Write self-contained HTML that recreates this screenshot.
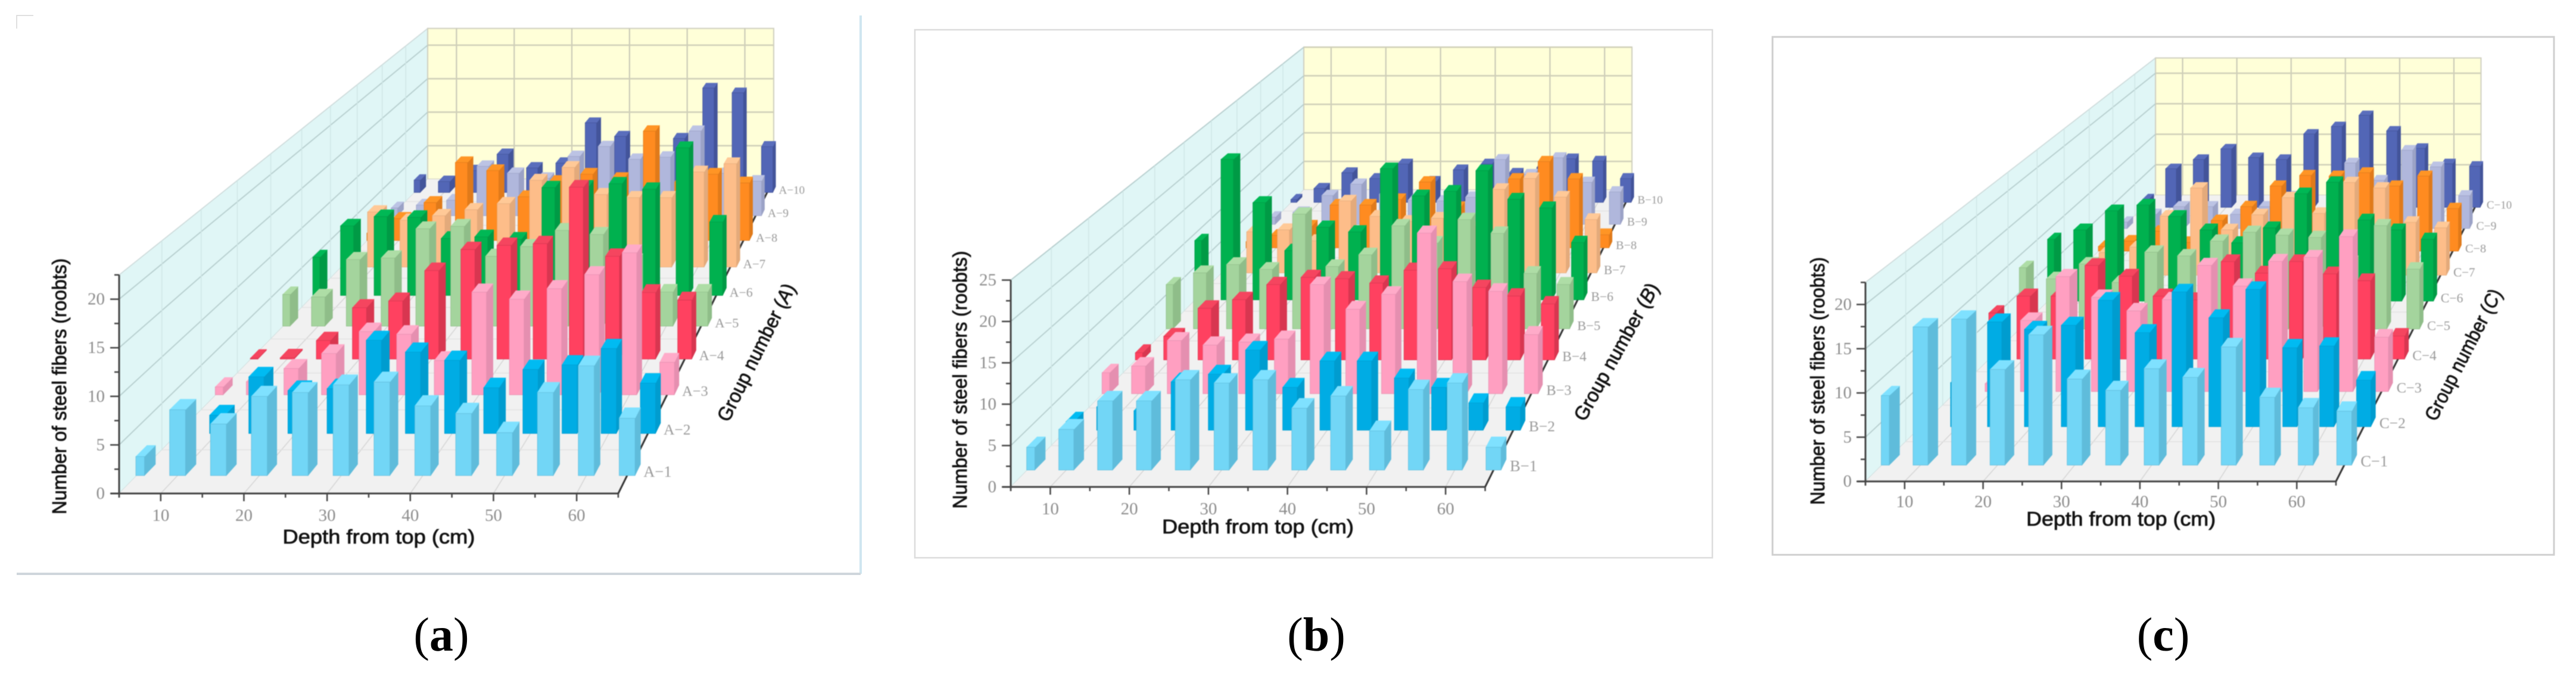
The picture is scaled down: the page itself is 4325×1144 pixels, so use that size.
<!DOCTYPE html>
<html lang="en">
<head>
<meta charset="utf-8">
<title>Steel fiber distribution by depth and group</title>
<style>
html,body{margin:0;padding:0;background:#fff;width:4325px;height:1144px;overflow:hidden}
#figure{display:block;position:absolute;left:0;top:0}
.tick{font-family:"Liberation Serif",serif;font-size:29px;fill:#8c8c8c}
.title{font-family:"Liberation Sans",sans-serif;font-size:33px;fill:#111;stroke:#111;stroke-width:.8px}
.cap{font-family:"Liberation Serif",serif;font-size:80px;fill:#000}
.plot{filter:blur(.8px)}
</style>
</head>
<body>
<svg id="figure" xmlns="http://www.w3.org/2000/svg" width="4325" height="1144" viewBox="0 0 4325 1144">
  <rect width="4325" height="1144" fill="#fff"/>
  <g fill="none">
    <path d="M1445 26V964" stroke="#cfe6f0" stroke-width="4"/>
    <path d="M28 964H1445" stroke="#cfd6dc" stroke-width="4"/>
    <path d="M28 48V26H56" stroke="#d5d5d5" stroke-width="1.5"/>
  </g>
  <rect x="1536" y="50" width="1339" height="887" fill="none" stroke="#dcdcdc" stroke-width="2.5"/>
  <rect x="2976" y="62" width="1312" height="870" fill="none" stroke="#cfcfcf" stroke-width="3"/>
  <g id="plots"></g>
  <text class="cap" x="741" y="1093" text-anchor="middle">(<tspan font-weight="bold">a</tspan>)</text>
  <text class="cap" x="2210" y="1093" text-anchor="middle">(<tspan font-weight="bold">b</tspan>)</text>
  <text class="cap" x="3632" y="1093" text-anchor="middle">(<tspan font-weight="bold">c</tspan>)</text>
</svg>
<script>
// ---------- data (hidden bars are estimates) ----------
const depthCategories = [5,10,15,20,25,30,35,40,45,50,55,60,65];
const depthTickLabels = [10,20,30,40,50,60];

const panelAValues = [
  [2.0,6.9,5.4,8.3,8.7,9.5,9.8,7.3,6.5,4.5,8.7,11.5,6.0],
  [2.5,2.0,6.2,4.7,4.9,10.2,8.9,8.0,5.0,7.0,7.5,9.3,5.5],
  [0.9,1.5,3.0,4.7,7.2,6.9,3.9,11.7,10.9,12.1,13.7,16.2,3.7],
  [0.1,0.15,2.2,6.1,6.9,10.5,13.0,13.5,13.7,20.4,12.2,7.9,7.0],
  [3.9,3.6,8.2,8.4,12.0,12.3,8.6,9.8,11.8,11.3,8.0,4.2,4.2],
  [4.9,8.9,10.1,10.0,7.3,7.5,7.2,13.8,13.9,14.3,13.6,18.9,9.4],
  [1.0,7.3,6.2,6.8,7.6,8.4,11.5,13.2,9.6,9.2,9.2,12.6,13.7],
  [1.0,3.0,5.2,10.7,9.6,6.0,8.1,9.1,8.5,15.0,8.0,9.1,7.9],
  [1.1,1.5,2.2,7.0,6.0,5.3,8.4,9.8,8.0,8.3,12.0,6.0,4.9],
  [1.8,1.6,3.2,5.6,3.6,4.3,10.2,8.2,6.0,7.9,15.3,14.6,6.7]
];
const panelBValues = [
  [2.8,5.0,8.5,8.5,11.1,10.7,11.1,7.6,9.1,4.8,9.9,10.7,2.8],
  [1.1,3.0,2.5,6.2,7.2,10.3,5.5,8.9,8.9,6.7,5.5,3.5,3.0],
  [2.8,3.7,7.1,6.5,6.9,7.3,14.6,11.3,13.3,21.5,15.0,13.7,7.9],
  [1.0,3.3,7.2,8.4,10.5,11.5,11.3,10.7,12.5,12.7,10.1,8.9,7.8],
  [6.4,8.1,9.3,8.6,16.6,9.0,10.7,14.9,12.4,15.8,13.8,8.0,6.4],
  [8.9,21.1,14.6,7.4,10.9,10.2,19.7,15.6,16.3,19.4,15.1,13.8,8.6],
  [3.0,6.4,6.7,5.0,11.2,8.8,8.0,8.5,7.0,13.0,14.7,11.8,8.3],
  [1.0,2.0,3.5,6.9,6.9,7.8,10.6,6.5,5.0,11.1,13.9,11.1,2.1],
  [1.2,2.0,4.8,6.7,5.0,4.0,3.9,4.5,10.8,8.3,11.1,7.0,5.4],
  [0.5,2.4,5.1,4.1,6.6,3.6,5.6,6.6,5.0,6.0,7.5,7.1,4.1]
];
const panelCValues = [
  [8.0,15.9,16.8,11.0,15.0,9.9,8.6,11.1,10.1,13.6,7.8,6.6,6.2],
  [1.0,5.3,12.6,11.7,12.2,15.2,11.3,16.2,13.1,16.5,9.5,9.7,5.6],
  [0.5,1.0,8.9,14.4,11.8,10.1,11.5,15.8,13.2,16.3,16.8,19.4,6.8],
  [6.0,8.2,8.2,12.2,10.8,8.2,7.7,12.7,11.2,12.7,11.1,10.2,3.0],
  [8.3,6.8,8.8,6.3,10.4,9.9,11.9,13.1,12.7,12.4,9.0,14.0,8.1],
  [8.7,10.0,12.7,13.5,11.9,10.0,8.2,10.3,15.1,16.7,11.4,10.0,8.7],
  [1.0,3.3,4.1,8.6,12.7,6.6,8.8,11.3,9.0,13.5,12.7,7.7,6.9],
  [0.7,1.5,3.0,1.3,4.6,6.7,9.8,11.4,11.3,11.8,9.8,11.3,6.4],
  [1.0,2.2,3.4,3.4,2.2,3.4,5.0,2.2,10.2,7.5,12.2,9.6,5.1],
  [1.3,6.2,7.7,9.4,8.0,7.7,11.8,13.0,14.8,12.3,9.5,7.0,6.6]
];
const yTicksA = [0,5,10,15,20];
const yTicksB = [0,5,10,15,20,25];
const yTicksC = [0,5,10,15,20];
const yMaxA = 22.5;
const yMaxB = 25;
const yMaxC = 22.5;

// ---------- styling ----------
const faceColors = [
  ['#72d6f6','#7fe1ff','#5fbcdb'],
  ['#00ace4','#00bbf2','#009ccf'],
  ['#ff9fc1','#ffabc9','#e58fb0'],
  ['#ff4160','#f5455f','#d83650'],
  ['#a4d49d','#aedda6','#8fbd89'],
  ['#00b14f','#00b855','#009a45'],
  ['#fdbd89','#ffc997','#e3aa7b'],
  ['#ff8b20','#ff9525','#e07a1a'],
  ['#b0b7dc','#bcc3e4','#9ba2c6'],
  ['#5266b6','#5a6ebc','#43549a']
];

const layoutA = {key:'A',x0:200,y0:829,x1:1038,bx0:718,bx1:1299,by:301,u:16.32,
  values:panelAValues,yMax:yMaxA,yTicks:yTicksA,yLabelX:176,xLabelY:866,
  yTitle:[100,649,430],xTitle:[636,902,323],group:[1270,592,-63.5,254]};
const layoutB = {key:'B',x0:1697,y0:818,x1:2493.5,bx0:2189,bx1:2740,by:319,u:13.9,
  values:panelBValues,yMax:yMaxB,yTicks:yTicksB,yLabelX:1673,xLabelY:855,
  yTitle:[1612,638,433],xTitle:[2112,885,322],group:[2714,591,-61,259]};
const layoutC = {key:'C',x0:3132,y0:808.7,x1:3922,bx0:3619,bx1:4165.5,by:328,u:14.86,
  values:panelCValues,yMax:yMaxC,yTicks:yTicksC,yLabelX:3109,xLabelY:843,
  yTitle:[3052,640,416],xTitle:[3561,872,318],group:[4136,596,-62.7,244]};

// ---------- perspective axis functions ----------
const DEPTH_RATIO = 1.45;
const ROW_START = 0.04, ROW_STEP = 0.1, BAR_DEPTH = 0.026, BAR_HALF = 0.97;
function lambdaOf(t){ return t*DEPTH_RATIO/((1-t)+t*DEPTH_RATIO); }
function scaleOf(t){ return 1/(1+(DEPTH_RATIO-1)*t); }
function project(p,xv,t,v){
  const l = lambdaOf(t);
  const L = p.x0+(p.bx0-p.x0)*l, R = p.x1+(p.bx1-p.x1)*l;
  return [L+(R-L)*(xv-5)/60, p.y0+(p.by-p.y0)*l - v*p.u*scaleOf(t)];
}
function ptStr(a){ return a.map(q=>q[0].toFixed(1)+','+q[1].toFixed(1)).join(' '); }
function make(tag,attrs,parent){
  const el = document.createElementNS('http://www.w3.org/2000/svg',tag);
  for(const k in attrs) el.setAttribute(k,attrs[k]);
  parent.appendChild(el);
  return el;
}
function lineBetween(a,b,stroke,width,parent){
  return make('line',{x1:a[0].toFixed(1),y1:a[1].toFixed(1),x2:b[0].toFixed(1),y2:b[1].toFixed(1),stroke:stroke,'stroke-width':width},parent);
}

function drawPanel(p){
  const root = document.getElementById('plots');
  const g = make('g',{class:'plot'},root);
  
  

  // walls and floor
  const side = make('polygon',{points:ptStr([project(p,5,0,0),project(p,5,1,0),project(p,5,1,p.yMax),project(p,5,0,p.yMax)]),fill:'#e0f6f6',stroke:'#c9d6d6','stroke-width':1.5},g);
  
  
  const back = make('polygon',{points:ptStr([project(p,5,1,0),project(p,65,1,0),project(p,65,1,p.yMax),project(p,5,1,p.yMax)]),fill:'#ffffd8',stroke:'#cfcfc0','stroke-width':2},g);
  
  
  const floor = make('polygon',{points:ptStr([project(p,5,0,0),project(p,65,0,0),project(p,65,1,0),project(p,5,1,0)]),fill:'#f1f1f1'},g);
  
  

  // grid
  const grid = make('g',{},g);
  
  
  depthTickLabels.forEach(function(d){
    lineBetween(project(p,d,0,0),project(p,d,1,0),'#d4d4d4',1.5,grid);
    lineBetween(project(p,d,1,0),project(p,d,1,p.yMax),'#c6c6b4',2,grid);
  });
  p.yTicks.forEach(function(v){
    if(v===0) return;
    lineBetween(project(p,5,0,v),project(p,5,1,v),'#b4cccc',1.8,grid);
    lineBetween(project(p,5,1,v),project(p,65,1,v),'#cfcfb8',2.5,grid);
  });
  for(let i=1;i<10;i++){
    const t=i*ROW_STEP;
    lineBetween(project(p,5,t,0),project(p,65,t,0),'#e2e2e2',1.5,grid);
    lineBetween(project(p,5,t,0),project(p,5,t,p.yMax),'#cfe6e6',1.5,grid);
  }

  // axes
  const axes = make('g',{},g);
  
  
  const axisY = lineBetween(project(p,5,0,0),project(p,5,0,p.yMax),'#444',3,axes);
  
  
  const axisX = lineBetween([p.x0-14,p.y0],project(p,65,0,0),'#444',3,axes);
  
  
  const axisZ = lineBetween(project(p,65,0,0),project(p,65,1,0),'#333',3,axes);
  
  

  p.yTicks.forEach(function(v){
    const a = project(p,5,0,v);
    lineBetween([a[0]-15,a[1]],a,'#444',2.5,axes);
    const minor = project(p,5,0,v+2.5);
    if(v+2.5<=p.yMax) lineBetween([minor[0]-8,minor[1]],minor,'#444',2.5,axes);
    const lab = make('text',{class:'tick',x:p.yLabelX,y:a[1]+9,'text-anchor':'end'},g);
    lab.textContent = String(v);
    
    
  });
  depthCategories.forEach(function(d){
    const a = project(p,d,0,0);
    lineBetween(a,[a[0],a[1]+(d%10===0?13:7)],'#444',2.5,axes);
  });
  lineBetween(project(p,5,0,0),[p.x0,p.y0+7],'#444',2.5,axes);
  depthTickLabels.forEach(function(d){
    const a = project(p,d,0,0);
    const lab = make('text',{class:'tick',x:a[0],y:p.xLabelY+9,'text-anchor':'middle'},g);
    lab.textContent = String(d);
    
    
  });

  // bars, far row to near row
  for(let r=p.values.length-1;r>=0;r--){
    const t0 = ROW_START+ROW_STEP*r, t1 = t0+BAR_DEPTH;
    const cols = faceColors[r];
    const rowG = make('g',{},g);
    
    
    depthCategories.forEach(function(d,c){
      const v = p.values[r][c];
      const xa = c===0 ? d-0.1 : d-BAR_HALF;
      const xb = c===0 ? d+0.95 : d+BAR_HALF;
      const bar = make('g',{},rowG);
      
      
      make('polygon',{points:ptStr([project(p,xb,t0,0),project(p,xb,t1,0),project(p,xb,t1,v),project(p,xb,t0,v)]),fill:cols[2],stroke:cols[2],'stroke-width':.6},bar);
      make('polygon',{points:ptStr([project(p,xa,t0,v),project(p,xb,t0,v),project(p,xb,t1,v),project(p,xa,t1,v)]),fill:cols[1],stroke:cols[1],'stroke-width':.6},bar);
      make('polygon',{points:ptStr([project(p,xa,t0,0),project(p,xb,t0,0),project(p,xb,t0,v),project(p,xa,t0,v)]),fill:cols[0],stroke:cols[2],'stroke-width':.8},bar);
    });
    // row label
    const s = scaleOf(t0);
    const edge = project(p,65,t0,0);
    const name = p.key+'\u2212'+(r+1);
    const lab = make('text',{x:edge[0]+28*s,y:edge[1]+2,'font-family':'"Liberation Serif",serif','font-size':(27*s).toFixed(1),fill:'#9a9a9a'},g);
    lab.textContent = name;
    
    
  }

  // titles
  const yt = make('text',{class:'title',transform:'translate('+p.yTitle[0]+','+p.yTitle[1]+') rotate(-90)','text-anchor':'middle',y:11,textLength:p.yTitle[2],lengthAdjust:'spacingAndGlyphs'},g);
  yt.textContent = 'Number of steel fibers (roobts)';
  
  
  const xt = make('text',{class:'title',x:p.xTitle[0],y:p.xTitle[1]+11,'text-anchor':'middle',textLength:p.xTitle[2],lengthAdjust:'spacingAndGlyphs'},g);
  xt.textContent = 'Depth from top (cm)';
  
  
  const gt = make('text',{class:'title',transform:'translate('+p.group[0]+','+p.group[1]+') rotate('+p.group[2]+')','text-anchor':'middle',y:11,textLength:p.group[3],lengthAdjust:'spacingAndGlyphs'},g);
  gt.appendChild(document.createTextNode('Group number ('));
  const it = make('tspan',{'font-style':'italic'},gt);
  it.textContent = p.key;
  gt.appendChild(document.createTextNode(')'));
  
  
}

drawPanel(layoutA);
drawPanel(layoutB);
drawPanel(layoutC);
</script>
</body>
</html>
